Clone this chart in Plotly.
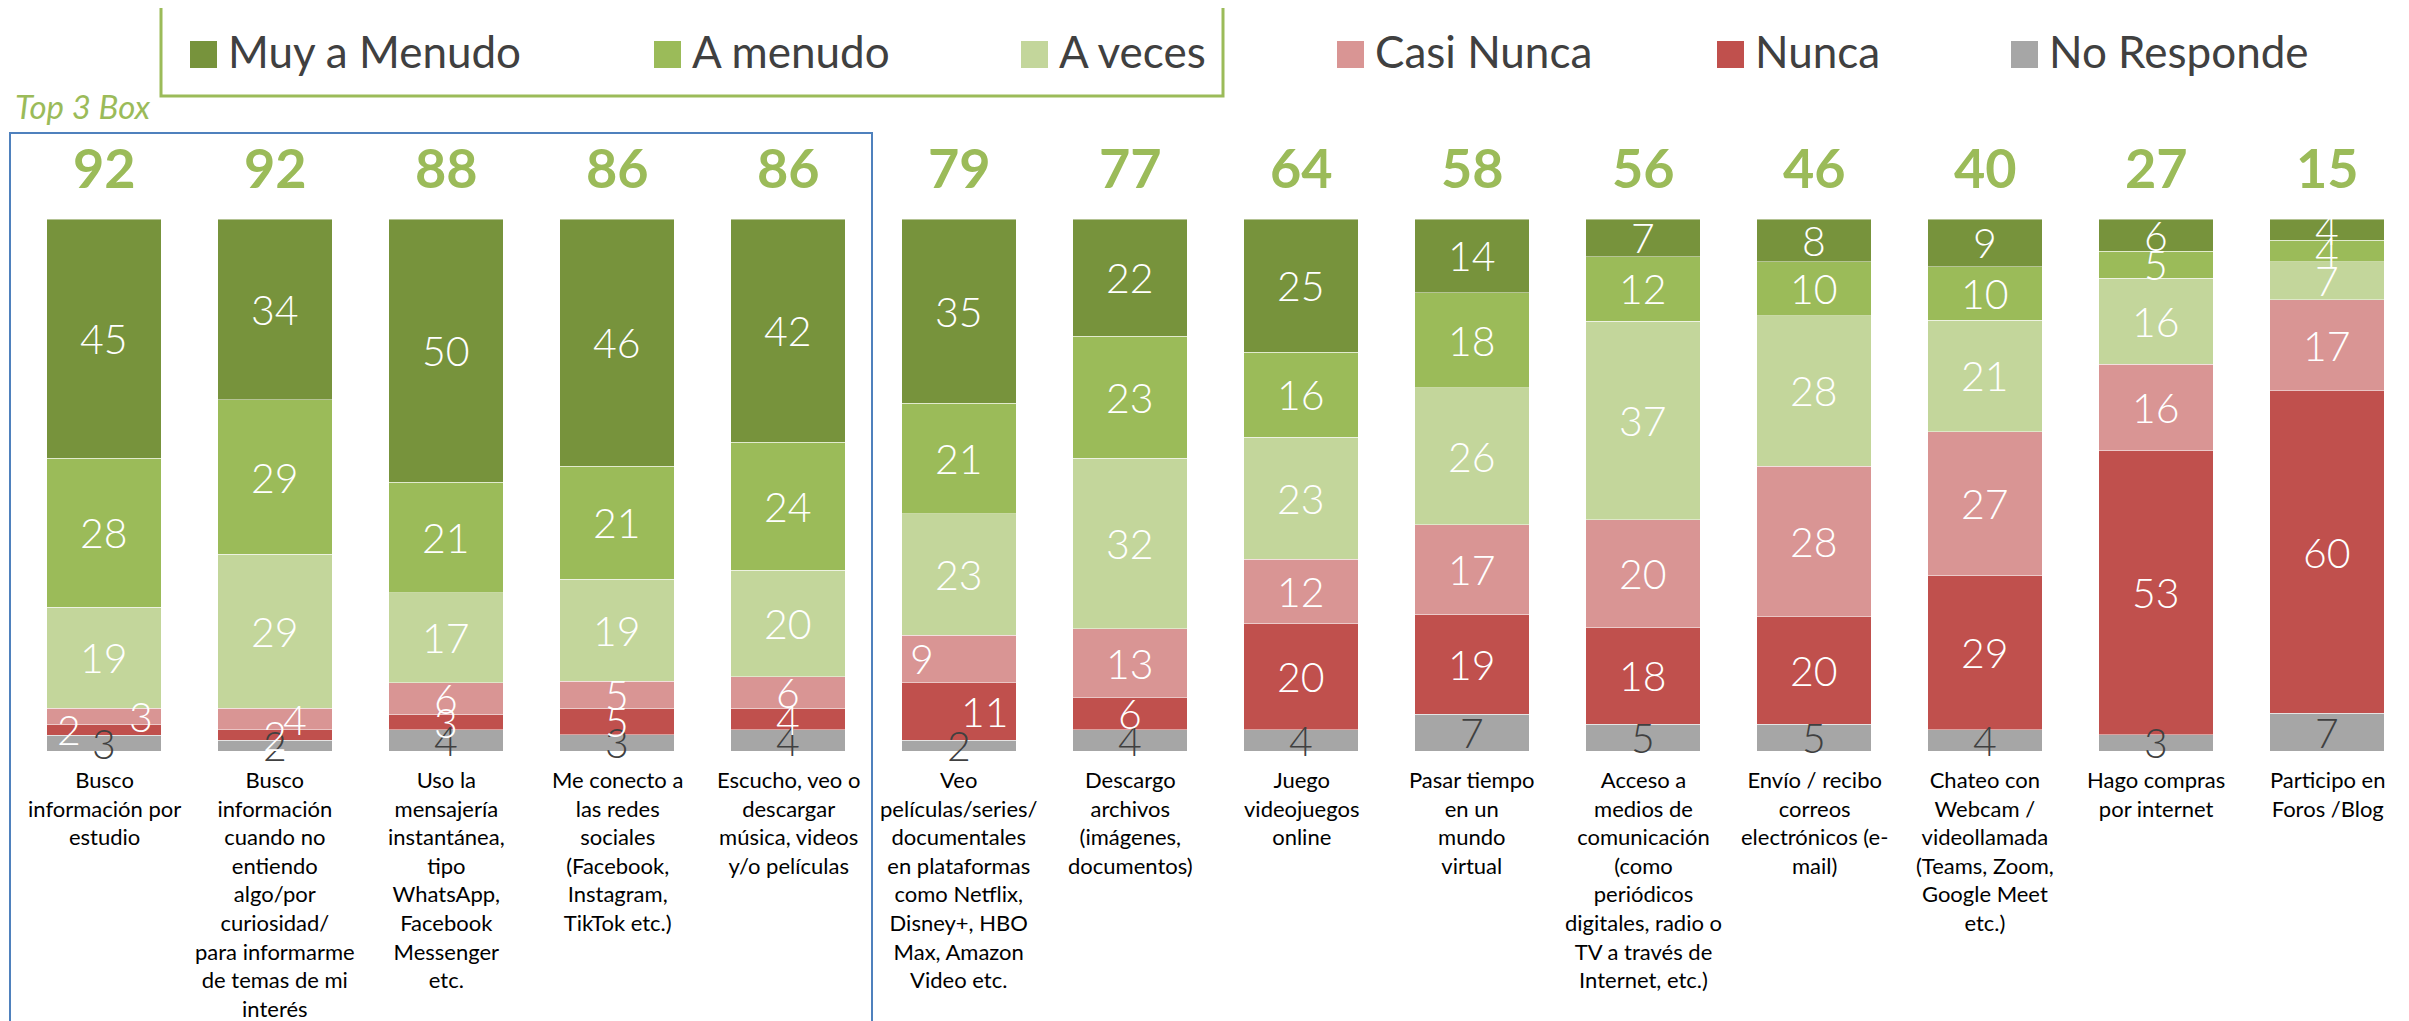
import plotly.graph_objects as go

# ---------------- data ----------------
categories = [
    "Busco<br>información por<br>estudio",
    "Busco<br>información<br>cuando no<br>entiendo<br>algo/por<br>curiosidad/<br>para informarme<br>de temas de mi<br>interés",
    "Uso la<br>mensajería<br>instantánea,<br>tipo<br>WhatsApp,<br>Facebook<br>Messenger<br>etc.",
    "Me conecto a<br>las redes<br>sociales<br>(Facebook,<br>Instagram,<br>TikTok etc.)",
    "Escucho, veo o<br>descargar<br>música, videos<br>y/o películas",
    "Veo<br>películas/series/<br>documentales<br>en plataformas<br>como Netflix,<br>Disney+, HBO<br>Max, Amazon<br>Video etc.",
    "Descargo<br>archivos<br>(imágenes,<br>documentos)",
    "Juego<br>videojuegos<br>online",
    "Pasar tiempo<br>en un<br>mundo<br>virtual",
    "Acceso a<br>medios de<br>comunicación<br>(como<br>periódicos<br>digitales, radio o<br>TV a través de<br>Internet, etc.)",
    "Envío / recibo<br>correos<br>electrónicos (e-<br>mail)",
    "Chateo con<br>Webcam /<br>videollamada<br>(Teams, Zoom,<br>Google Meet<br>etc.)",
    "Hago compras<br>por internet",
    "Participo en<br>Foros /Blog",
]
series_names = ["Muy a Menudo", "A menudo", "A veces", "Casi Nunca", "Nunca", "No Responde"]
muy_a_menudo = [45, 34, 50, 46, 42, 35, 22, 25, 14, 7, 8, 9, 6, 4]
a_menudo = [28, 29, 21, 21, 24, 21, 23, 16, 18, 12, 10, 10, 5, 4]
a_veces = [19, 29, 17, 19, 20, 23, 32, 23, 26, 37, 28, 21, 16, 7]
casi_nunca = [3, 4, 6, 5, 6, 9, 13, 12, 17, 20, 28, 27, 16, 17]
nunca = [2, 2, 3, 5, 4, 11, 6, 20, 19, 18, 20, 29, 53, 60]
no_responde = [3, 2, 4, 3, 4, 2, 4, 4, 7, 5, 5, 4, 3, 7]
top3_label = "Top 3 Box"

# ---------------- styles ----------------
colors = ["#77933C", "#9BBB59", "#C3D69B", "#D99594", "#C0504D", "#A6A6A6"]
label_colors = ["white", "white", "white", "white", "white", "#404040"]
FONT = "Lato, 'Open Sans', sans-serif"
OFF = 8                      # page body margin
W, H = 2409 - OFF, 1021 - OFF
PLOT_TOP, PLOT_BOTTOM = 219 - OFF, 751 - OFF
STEP = 171.0                 # pixels per category
label_xshift = {(0, 3): 37, (0, 4): -35, (1, 3): 20, (5, 3): -37, (5, 4): 26}
legend_marker_x = [190, 654, 1021, 1337, 1717, 2011]

series = [muy_a_menudo, a_menudo, a_veces, casi_nunca, nunca, no_responde]
n = len(categories)
xs = list(range(n))


def px(p):
    return (p - OFF) / W


def py(p):
    return (PLOT_BOTTOM - (p - OFF)) / (PLOT_BOTTOM - PLOT_TOP)


fig = go.Figure()
for k in reversed(range(len(series))):
    fig.add_trace(go.Bar(
        x=xs, y=series[k], name=series_names[k],
        marker=dict(color=colors[k], line=dict(color="rgba(255,255,255,0.45)", width=1)),
        showlegend=False, hoverinfo="name+y",
    ))

annotations = []
# segment labels
for i in xs:
    total = sum(s[i] for s in series)
    cum = 0.0
    for k in reversed(range(len(series))):
        v = series[k][i]
        mid = (cum + v / 2) / total * 100
        cum += v
        annotations.append(dict(
            x=i, y=mid, xref="x", yref="y", text=str(v), showarrow=False,
            xshift=label_xshift.get((i, k), 0),
            font=dict(family=FONT, size=41, color=label_colors[k], weight=300),
        ))

# top-3-box totals
for i in xs:
    t3 = muy_a_menudo[i] + a_menudo[i] + a_veces[i]
    annotations.append(dict(
        x=i, y=py(168), xref="x", yref="paper",
        text=f"<b>{t3}</b>", showarrow=False, yanchor="middle",
        font=dict(family=FONT, size=54, color="#9BBB59"),
    ))

# category labels
for i in xs:
    annotations.append(dict(
        x=i, y=0, xref="x", yref="paper", yanchor="top", yshift=-13,
        text=categories[i], showarrow=False, align="center",
        font=dict(family=FONT, size=22, color="#000000"),
    ))

# Top 3 Box title
annotations.append(dict(
    x=px(13), y=py(106), xref="paper", yref="paper", xanchor="left", yanchor="middle",
    text=f"<i>{top3_label}</i>", showarrow=False,
    font=dict(family=FONT, size=33, color="#9BBB59"),
))

shapes = []
# manual legend
for k, name in enumerate(series_names):
    x0 = legend_marker_x[k]
    shapes.append(dict(type="rect", xref="paper", yref="paper",
                       x0=px(x0), x1=px(x0 + 27), y0=py(68), y1=py(41),
                       fillcolor=colors[k], line=dict(width=0)))
    annotations.append(dict(
        x=px(x0 + 36), y=py(51), xref="paper", yref="paper", xanchor="left", yanchor="middle",
        text=name, showarrow=False, font=dict(family=FONT, size=44, color="#404040"),
    ))

# green frame around the first three legend entries
shapes.append(dict(type="rect", xref="paper", yref="paper",
                   x0=px(161), x1=px(1223), y0=py(96), y1=py(4),
                   line=dict(color="#9BBB59", width=3), fillcolor="rgba(0,0,0,0)"))
# blue box around first five categories
shapes.append(dict(type="rect", xref="paper", yref="paper",
                   x0=px(10), x1=px(872), y0=py(1040), y1=py(133),
                   line=dict(color="#4F81BD", width=2), fillcolor="rgba(0,0,0,0)"))

x_left = -(104 - OFF) / STEP
fig.update_layout(
    width=W, height=H,
    barmode="stack", barnorm="percent", bargap=0.333,
    margin=dict(l=0, r=0, t=PLOT_TOP, b=H - PLOT_BOTTOM, pad=0),
    plot_bgcolor="white", paper_bgcolor="white",
    xaxis=dict(range=[x_left, x_left + W / STEP], showticklabels=False, showgrid=False,
               zeroline=False, showline=False, ticks=""),
    yaxis=dict(range=[0, 100], visible=False, showgrid=False, zeroline=False),
    annotations=annotations, shapes=shapes,
    showlegend=False,
)

fig.write_html("out.html")
